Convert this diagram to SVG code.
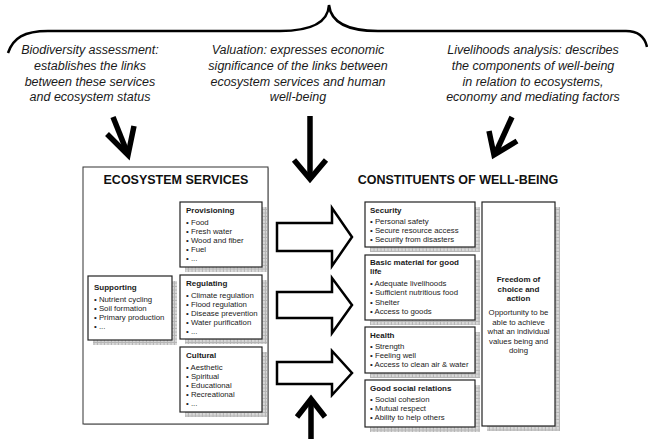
<svg xmlns="http://www.w3.org/2000/svg" width="648" height="439" viewBox="0 0 648 439">
  <defs>
    <!-- checkered drop-shadow fill for the service / well-being cards -->
    <pattern id="grid" width="3.5" height="3.5" patternUnits="userSpaceOnUse">
      <rect width="3.5" height="3.5" fill="#b4b4b4"/>
      <rect width="2.5" height="2.5" fill="#dadada"/>
    </pattern>
  </defs>
  <style>
    .note { font-family: "Liberation Sans", Arial, sans-serif; font-style: italic; font-size: 12.5px; fill: #1a1a1a; text-anchor: middle; }
    .head { font-family: "Liberation Sans", Arial, sans-serif; font-weight: bold; font-size: 12.5px; fill: #111; text-anchor: middle; }
    .card { fill: #fff; stroke: #222; stroke-width: 1.2; }
    .shadow { fill: url(#grid); }
    .ttl { font-family: "Liberation Sans", Arial, sans-serif; font-weight: bold; font-size: 8px; fill: #1a1a1a; }
    .itm { font-family: "Liberation Sans", Arial, sans-serif; font-size: 7.8px; fill: #222; }
    .thick { fill: none; stroke: #000; stroke-width: 5.5; stroke-linejoin: miter; stroke-miterlimit: 10; }
    .block { fill: #fff; stroke: #000; stroke-width: 2.5; stroke-linejoin: miter; }
  </style>

  <!-- brace over the three analyses -->
  <path id="brace" d="M 8 53 C 13 38, 24 31, 48 31 L 280 31 C 310 31, 328 23, 329 5 C 331 23, 348 31, 378 31 L 626 31 C 640 31, 645 38, 647 47" fill="none" stroke="#000" stroke-width="2.5"/>

  <!-- analysis notes -->
  <g id="note-biodiversity">
    <text class="note" x="90" y="54">Biodiversity assessment:</text>
    <text class="note" x="90" y="70">establishes the links</text>
    <text class="note" x="90" y="86">between these services</text>
    <text class="note" x="90" y="101">and ecosystem status</text>
  </g>
  <g id="note-valuation">
    <text class="note" x="298" y="54">Valuation: expresses economic</text>
    <text class="note" x="298" y="70">significance of the links between</text>
    <text class="note" x="298" y="86">ecosystem services and human</text>
    <text class="note" x="298" y="101">well-being</text>
  </g>
  <g id="note-livelihoods">
    <text class="note" x="533" y="54">Livelihoods analysis: describes</text>
    <text class="note" x="533" y="70">the components of well-being</text>
    <text class="note" x="533" y="86">in relation to ecosystems,</text>
    <text class="note" x="533" y="101">economy and mediating factors</text>
  </g>

  <!-- ecosystem services panel -->
  <g id="ecosystem-services">
    <rect x="84" y="168" width="185" height="257" fill="#c4c4c4"/>
    <rect x="83" y="167" width="185" height="257" fill="#fff" stroke="#333" stroke-width="1"/>
    <text class="head" x="176" y="184">ECOSYSTEM SERVICES</text>
  </g>

  <g id="provisioning">
    <rect class="shadow" x="185" y="207" width="82" height="65"/>
    <rect class="card" x="180" y="202" width="82" height="65"/>
    <text class="ttl" x="186" y="213">Provisioning</text>
    <text class="itm" x="186" y="225">• Food</text>
    <text class="itm" x="186" y="234">• Fresh water</text>
    <text class="itm" x="186" y="243">• Wood and fiber</text>
    <text class="itm" x="186" y="252">• Fuel</text>
    <text class="itm" x="186" y="261">• ...</text>
  </g>

  <g id="regulating">
    <rect class="shadow" x="185" y="280" width="82" height="64"/>
    <rect class="card" x="180" y="275" width="82" height="64"/>
    <text class="ttl" x="186" y="286">Regulating</text>
    <text class="itm" x="186" y="298">• Climate regulation</text>
    <text class="itm" x="186" y="307">• Flood regulation</text>
    <text class="itm" x="186" y="316">• Disease prevention</text>
    <text class="itm" x="186" y="325">• Water purification</text>
    <text class="itm" x="186" y="334">• ...</text>
  </g>

  <g id="cultural">
    <rect class="shadow" x="185" y="352" width="82" height="65"/>
    <rect class="card" x="180" y="347" width="82" height="65"/>
    <text class="ttl" x="186" y="358">Cultural</text>
    <text class="itm" x="186" y="370">• Aesthetic</text>
    <text class="itm" x="186" y="379">• Spiritual</text>
    <text class="itm" x="186" y="388">• Educational</text>
    <text class="itm" x="186" y="397">• Recreational</text>
    <text class="itm" x="186" y="406">• ...</text>
  </g>

  <g id="supporting">
    <rect class="shadow" x="93" y="281" width="84" height="64"/>
    <rect class="card" x="88" y="276" width="84" height="64"/>
    <text class="ttl" x="94" y="290">Supporting</text>
    <text class="itm" x="94" y="302">• Nutrient cycling</text>
    <text class="itm" x="94" y="311">• Soil formation</text>
    <text class="itm" x="94" y="320">• Primary production</text>
    <text class="itm" x="94" y="329">• ...</text>
  </g>

  <!-- constituents of well-being -->
  <g id="wellbeing-title">
    <text class="head" x="458" y="184">CONSTITUENTS OF WELL-BEING</text>
  </g>

  <g id="security">
    <rect class="shadow" x="370" y="207" width="110" height="45"/>
    <rect class="card" x="365" y="202" width="110" height="45"/>
    <text class="ttl" x="370" y="213">Security</text>
    <text class="itm" x="370" y="224">• Personal safety</text>
    <text class="itm" x="370" y="233">• Secure resource access</text>
    <text class="itm" x="370" y="242">• Security from disasters</text>
  </g>

  <g id="basic-material">
    <rect class="shadow" x="370" y="260" width="110" height="65"/>
    <rect class="card" x="365" y="255" width="110" height="65"/>
    <text class="ttl" x="370" y="265">Basic material for good</text>
    <text class="ttl" x="370" y="274">life</text>
    <text class="itm" x="370" y="286">• Adequate livelihoods</text>
    <text class="itm" x="370" y="295">• Sufficient nutritious food</text>
    <text class="itm" x="370" y="304.5">• Shelter</text>
    <text class="itm" x="370" y="314">• Access to goods</text>
  </g>

  <g id="health">
    <rect class="shadow" x="370" y="332" width="110" height="46"/>
    <rect class="card" x="365" y="327" width="110" height="46"/>
    <text class="ttl" x="370" y="338">Health</text>
    <text class="itm" x="370" y="349">• Strength</text>
    <text class="itm" x="370" y="358">• Feeling well</text>
    <text class="itm" x="370" y="367">• Access to clean air &amp; water</text>
  </g>

  <g id="social-relations">
    <rect class="shadow" x="370" y="385" width="110" height="47"/>
    <rect class="card" x="365" y="380" width="110" height="47"/>
    <text class="ttl" x="370" y="391">Good social relations</text>
    <text class="itm" x="370" y="402">• Social cohesion</text>
    <text class="itm" x="370" y="411">• Mutual respect</text>
    <text class="itm" x="370" y="420">• Ability to help others</text>
  </g>

  <g id="freedom">
    <rect class="shadow" x="487" y="207" width="73" height="224"/>
    <rect class="card" x="482" y="202" width="73" height="224"/>
    <g class="ttl" text-anchor="middle">
      <text x="518.5" y="282">Freedom of</text>
      <text x="518.5" y="292">choice and</text>
      <text x="518.5" y="301">action</text>
    </g>
    <g class="itm" text-anchor="middle">
      <text x="518.5" y="315">Opportunity to be</text>
      <text x="518.5" y="325">able to achieve</text>
      <text x="518.5" y="334">what an individual</text>
      <text x="518.5" y="344">values being and</text>
      <text x="518.5" y="353">doing</text>
    </g>
  </g>

  <!-- connectors -->
  <g id="connectors">
    <!-- analysis arrows -->
    <line class="thick" x1="113" y1="117" x2="127" y2="152"/>
    <polyline class="thick" points="107,134 128,155 134,126"/>
    <line class="thick" x1="310" y1="116" x2="310" y2="176"/>
    <polyline class="thick" points="294,160 310,179 326,160"/>
    <line class="thick" x1="512" y1="117" x2="496" y2="152"/>
    <polyline class="thick" points="489,131 494,155 517,141"/>
    <line class="thick" x1="311" y1="439" x2="311" y2="402"/>
    <polyline class="thick" points="297,417 311,399 325,417"/>
    <!-- service-to-well-being block arrows -->
    <polygon class="block" points="277,223 332,223 332,208 352,237 332,266 332,251 277,251"/>
    <polygon class="block" points="277,292 332,292 332,278 352,305 332,333 332,318 277,318"/>
    <polygon class="block" points="277,362 332,362 332,351 352,373 332,395 332,384 277,384"/>
  </g>
</svg>
